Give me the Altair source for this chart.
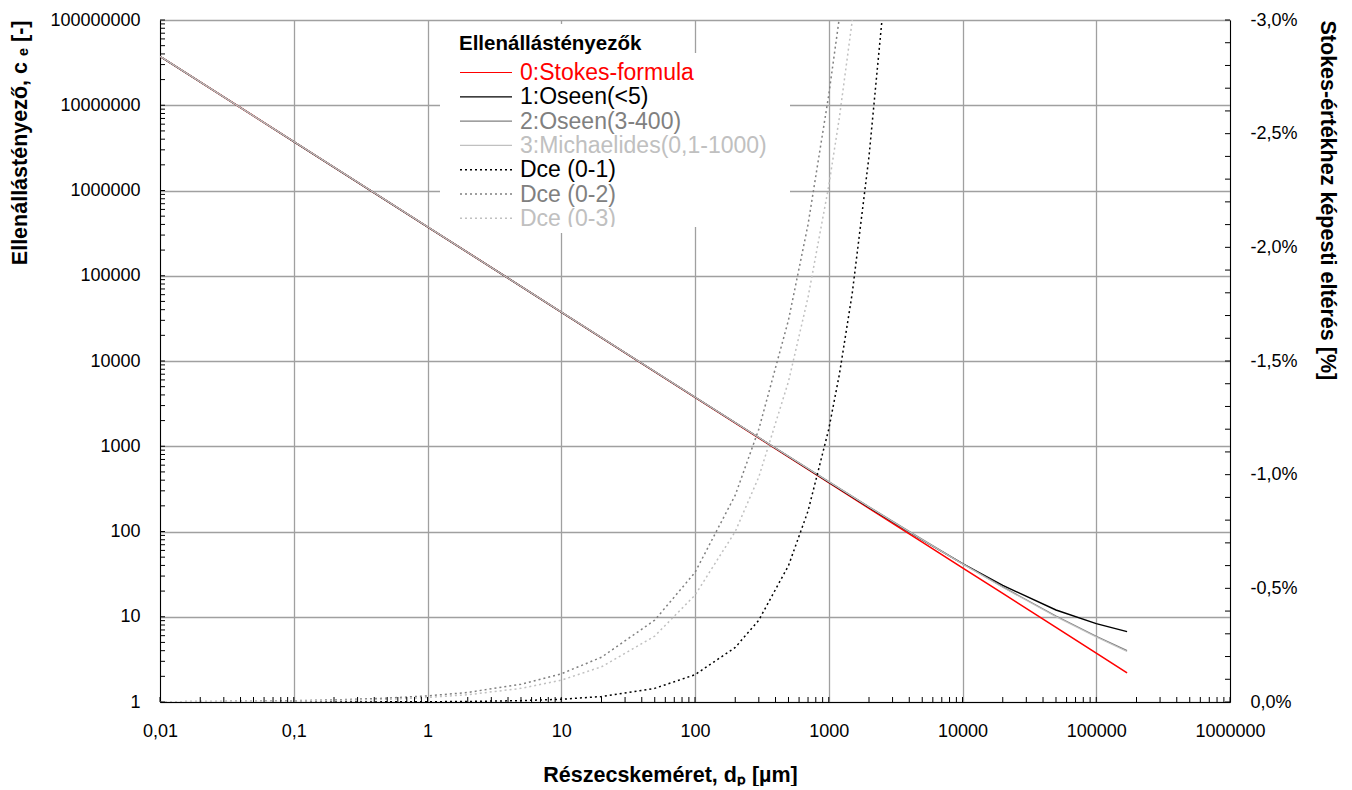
import altair as alt
import pandas as pd

# ---------------- data ----------------
series_names = ["0:Stokes-formula", "1:Oseen(<5)", "2:Oseen(3-400)", "3:Michaelides(0,1-1000)"]
series_colors = ["#FF0000", "#000000", "#808080", "#C0C0C0"]
dce_names = ["Dce (0-1)", "Dce (0-2)", "Dce (0-3)"]
dce_colors = ["#000000", "#808080", "#C0C0C0"]

d_um = [0.01, 0.1, 1, 10, 100, 1000, 2000, 5000, 10000, 20000, 50000, 100000, 170000]
ce_stokes = [37500000, 3750000, 375000, 37500, 3750, 375, 187.5, 75, 37.5, 18.8, 7.5, 3.75, 2.2]
ce_oseen5 = [37500000, 3750000, 375000, 37500, 3755, 380, 192, 79.5, 42, 23.3, 12.0, 8.3, 6.7]
ce_oseen400 = [37500000, 3750000, 375000, 37600, 3772, 385, 195, 81, 42.1, 22.4, 10.2, 5.9, 4.0]
ce_michaelides = [37500000, 3750000, 375000, 37540, 3768, 383, 194, 80, 41.6, 22.1, 10.0, 5.8, 3.9]

d_dce = [0.01, 0.02, 0.05, 0.1, 0.2, 0.5, 1, 2, 5, 10, 20, 50, 100, 200, 300, 500, 700, 1000, 1200, 1500, 2000, 2500]
dce_01 = [-0.00001, -0.00002, -0.00006, -0.0001, -0.0002, -0.0006, -0.0012, -0.0024, -0.006, -0.012, -0.024,
          -0.06, -0.12, -0.24, -0.36, -0.6, -0.84, -1.2, -1.44, -1.8, -2.4, -3.0]
dce_02 = [-0.0012, -0.002, -0.0036, -0.0057, -0.009, -0.017, -0.027, -0.042, -0.078, -0.124, -0.197,
          -0.36, -0.57, -0.91, -1.2, -1.68, -2.1, -2.67, -3.01, None, None, None]
dce_03 = [-0.0008, -0.0013, -0.0025, -0.0041, -0.0065, -0.012, -0.02, -0.032, -0.06, -0.096, -0.155,
          -0.29, -0.47, -0.75, -0.99, -1.41, -1.78, -2.27, -2.57, -3.0, None, None]

x_ticks = [0.01, 0.1, 1, 10, 100, 1000, 10000, 100000, 1000000]
y_ticks = [1, 10, 100, 1000, 10000, 100000, 1000000, 10000000, 100000000]
pct_ticks = [0.0, -0.5, -1.0, -1.5, -2.0, -2.5, -3.0]

legend_title = "Ellenállástényezők"
x_title = "Részecskeméret, dₚ [µm]"
y_title = "Ellenállástényező, c ₑ [-]"
y2_title = "Stokes-értékhez képesti eltérés [%]"

# ---------------- layout ----------------
W, H = 1070, 682
FONT = "Liberation Sans"

rows = []
for k, (name, vals) in enumerate(zip(series_names, [ce_stokes, ce_oseen5, ce_oseen400, ce_michaelides])):
    for d, v in zip(d_um, vals):
        rows.append({"d": d, "ce": v, "series": name, "k": k})
lines_df = pd.DataFrame(rows)

rows = []
for name, vals in zip(dce_names, [dce_01, dce_02, dce_03]):
    for d, v in zip(d_dce, vals):
        if v is not None:
            rows.append({"d": d, "pct": v, "series": name})
dce_df = pd.DataFrame(rows)

x_scale = alt.Scale(type="log", domain=[0.01, 1000000], nice=False)
y_scale = alt.Scale(type="log", domain=[1, 100000000], nice=False)
y2_scale = alt.Scale(domain=[0, -3], nice=False, zero=False)

x_axis = alt.Axis(values=x_ticks, grid=True, ticks=False, labelExpr="replace(toString(datum.value), '.', ',')",
                  labelPadding=20, labelFlush=False, labelOverlap=False,
                  title=x_title, titleX=510, titleY=73, titleAlign="center", titleBaseline="middle")
y_axis = alt.Axis(values=y_ticks, grid=True, ticks=False, labelExpr="toString(datum.value)",
                  labelPadding=20, labelFlush=False, labelOverlap=False,
                  title=y_title, titleAngle=-90, titleAlign="right", titleX=-140,
                  titleY=0, titleBaseline="middle")
y2_axis = alt.Axis(orient="right", values=pct_ticks, grid=False, ticks=False,
                   labelExpr="(datum.value < 0 ? '-' : '') + replace(format(abs(datum.value), '.1f'), '.', ',') + '%'",
                   labelPadding=20, labelFlush=False, labelOverlap=False,
                   title=y2_title, titleAngle=90, titleAlign="left", titleX=96, titleY=0,
                   titleBaseline="middle")

main_lines = alt.Chart(lines_df).mark_line(clip=True).encode(
    x=alt.X("d:Q", scale=x_scale, axis=x_axis),
    y=alt.Y("ce:Q", scale=y_scale, axis=y_axis),
    color=alt.Color("series:N", scale=alt.Scale(domain=series_names, range=series_colors), legend=None),
    strokeWidth=alt.StrokeWidth("series:N", scale=alt.Scale(domain=series_names, range=[1.6, 1.1, 1.2, 1.1]),
                                legend=None),
    order=alt.Order("d:Q"),
)

dce_layer = alt.Chart(dce_df).mark_line(strokeWidth=1.5, strokeDash=[2, 3], clip=True).encode(
    x=alt.X("d:Q", scale=x_scale, axis=x_axis),
    y=alt.Y("pct:Q", scale=y2_scale, axis=y2_axis),
    color=alt.Color("series:N", scale=alt.Scale(domain=dce_names, range=dce_colors), legend=None),
    order=alt.Order("d:Q"),
)

xt = [k * 10.0 ** e for e in range(-2, 6) for k in range(1, 10)] + [1000000]
yt = [k * 10.0 ** e for e in range(0, 8) for k in range(1, 10)] + [100000000]
pt = [-0.1 * i for i in range(0, 31)]

x_tick_layer = alt.Chart(pd.DataFrame({"t": xt})).mark_rule(color="black", strokeWidth=1).encode(
    x=alt.X("t:Q", scale=x_scale, axis=x_axis), y=alt.value(H), y2=alt.value(H - 5))
y_tick_layer = alt.Chart(pd.DataFrame({"t": yt})).mark_rule(color="black", strokeWidth=1).encode(
    y=alt.Y("t:Q", scale=y_scale, axis=None), x=alt.value(0), x2=alt.value(5))
y2_tick_layer = alt.Chart(pd.DataFrame({"t": pt})).mark_rule(color="black", strokeWidth=1).encode(
    y=alt.Y("t:Q", scale=y2_scale, axis=None), x=alt.value(W), x2=alt.value(W - 5))

# ---------------- legend (drawn by hand) ----------------
all_names = series_names + dce_names
all_colors = series_colors + dce_colors
leg_df = pd.DataFrame({
    "name": all_names,
    "color": all_colors,
    "i": list(range(len(all_names))),
})
leg_df["base"] = 60 + leg_df["i"] * 24.3
leg_df["sym"] = leg_df["base"] - 7.5
one = pd.DataFrame({"a": [0]})

box_title = alt.Chart(one).mark_rect(color="white").encode(
    x=alt.value(280), x2=alt.value(492), y=alt.value(4), y2=alt.value(34))
box = alt.Chart(one).mark_rect(color="white").encode(
    x=alt.value(280), x2=alt.value(630), y=alt.value(33), y2=alt.value(207))
title_txt = alt.Chart(one).mark_text(text=legend_title, font=FONT, fontSize=20.5, fontWeight="bold",
                                     align="left", baseline="alphabetic", color="black").encode(
    x=alt.value(299), y=alt.value(30))
sym_solid = alt.Chart(leg_df[leg_df.i < 4]).mark_rule(strokeWidth=1.2).encode(
    x=alt.value(300), x2=alt.value(352), y=alt.Y("sym:Q", scale=None),
    color=alt.Color("color:N", scale=None))
sym_dot = alt.Chart(leg_df[leg_df.i >= 4]).mark_rule(strokeWidth=1.5, strokeDash=[2, 3]).encode(
    x=alt.value(300), x2=alt.value(352), y=alt.Y("sym:Q", scale=None),
    color=alt.Color("color:N", scale=None))
labels = alt.Chart(leg_df).mark_text(font=FONT, fontSize=23, align="left", baseline="alphabetic").encode(
    x=alt.value(360), y=alt.Y("base:Q", scale=None), text="name:N",
    color=alt.Color("color:N", scale=None))
strip = alt.Chart(one).mark_rect(color="white").encode(
    x=alt.value(356), x2=alt.value(490), y=alt.value(207), y2=alt.value(213))

chart = alt.layer(
    main_lines, dce_layer, y_tick_layer, y2_tick_layer, x_tick_layer,
    box_title, box, title_txt, sym_solid, sym_dot, labels, strip,
).resolve_scale(y="independent", color="independent", strokeWidth="independent").properties(
    width=W, height=H,
    autosize=alt.AutoSizeParams(type="none"),
    padding={"left": 152, "top": 12, "right": 114, "bottom": 84},
).configure_view(stroke=None).configure_axis(
    labelFont=FONT, labelFontSize=18, labelColor="black",
    titleFont=FONT, titleFontSize=21.5, titleFontWeight="bold", titleColor="black",
    domainColor="black", domainWidth=1, gridColor="#A0A0A0", gridWidth=1.3,
).configure_text(font=FONT)

chart.save("out.html", embed_options={"renderer": "svg", "actions": False})
